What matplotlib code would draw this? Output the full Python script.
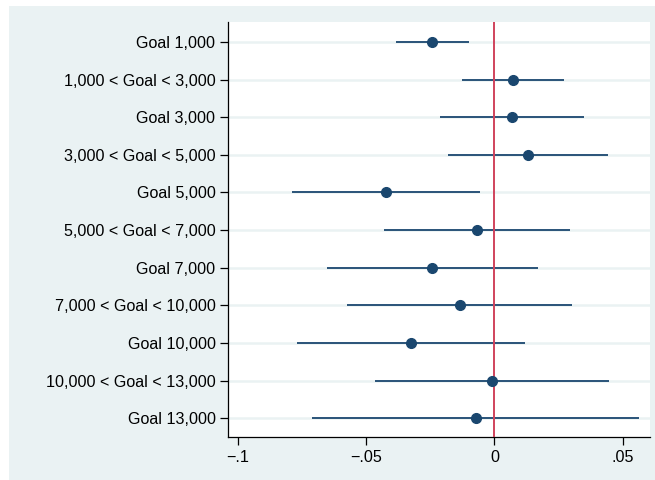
import numpy as np
import matplotlib.pyplot as plt
from matplotlib.patches import Rectangle

labels = ['Goal 1,000', '1,000 < Goal < 3,000', 'Goal 3,000', '3,000 < Goal < 5,000',
          'Goal 5,000', '5,000 < Goal < 7,000', 'Goal 7,000', '7,000 < Goal < 10,000',
          'Goal 10,000', '10,000 < Goal < 13,000', 'Goal 13,000']
coef = [-0.0242, 0.0074, 0.0068, 0.0130, -0.0424, -0.0069, -0.0242, -0.0136, -0.0325, -0.0011, -0.0073]
ci_lo = [-0.0383, -0.0125, -0.0213, -0.0182, -0.0789, -0.0432, -0.0652, -0.0573, -0.0768, -0.0466, -0.0710]
ci_hi = [-0.0100, 0.0273, 0.0350, 0.0445, -0.0057, 0.0294, 0.0170, 0.0302, 0.0118, 0.0446, 0.0565]
xticks = [-0.1, -0.05, 0, 0.05]
xticklabels = ['\u2212.1', '\u2212.05', '0', '.05']

plt.rcParams['font.family'] = ['Liberation Sans', 'DejaVu Sans']

bg = '#eaf2f3'
navy = '#1a476f'

fig = plt.figure(figsize=(6.55, 4.8), dpi=100)
fig.patch.set_facecolor('white')
fig.patches.append(Rectangle((9 / 655, 0), 1, 1 - 6 / 480, transform=fig.transFigure,
                             facecolor=bg, edgecolor='none', zorder=-10))

ax = fig.add_axes([228 / 655, 1 - 437 / 480, (650 - 228) / 655, (437 - 22) / 480])
ax.set_zorder(1)
ax.set_facecolor('white')

y = np.arange(1, len(labels) + 1)
for yy in y:
    ax.axhline(yy, color=bg, lw=1.8, zorder=1)

ax.hlines(y, ci_lo, ci_hi, color=navy, lw=1.3, zorder=2)
ax.axvline(0, color='#d0435c', lw=1.4, zorder=3)
ax.plot(coef, y, 'o', color=navy, ms=7, zorder=4)

ax.set_ylim(11.5, 0.47)
ax.set_xlim(-0.1039, 0.0607)
ax.set_yticks(y)
ax.set_yticklabels(labels, fontsize=11.6)
ax.set_xticks(xticks)
ax.set_xticklabels(xticklabels, fontsize=11.6)
ax.tick_params(axis='both', length=6, width=0.9, color='black', direction='out')
ax.tick_params(axis='y', pad=3)
ax.tick_params(axis='x', pad=3)

for s in ['top', 'right']:
    ax.spines[s].set_visible(False)
for s in ['left', 'bottom']:
    ax.spines[s].set_color('black')
    ax.spines[s].set_linewidth(0.9)

fig.savefig('out.png', dpi=100)
